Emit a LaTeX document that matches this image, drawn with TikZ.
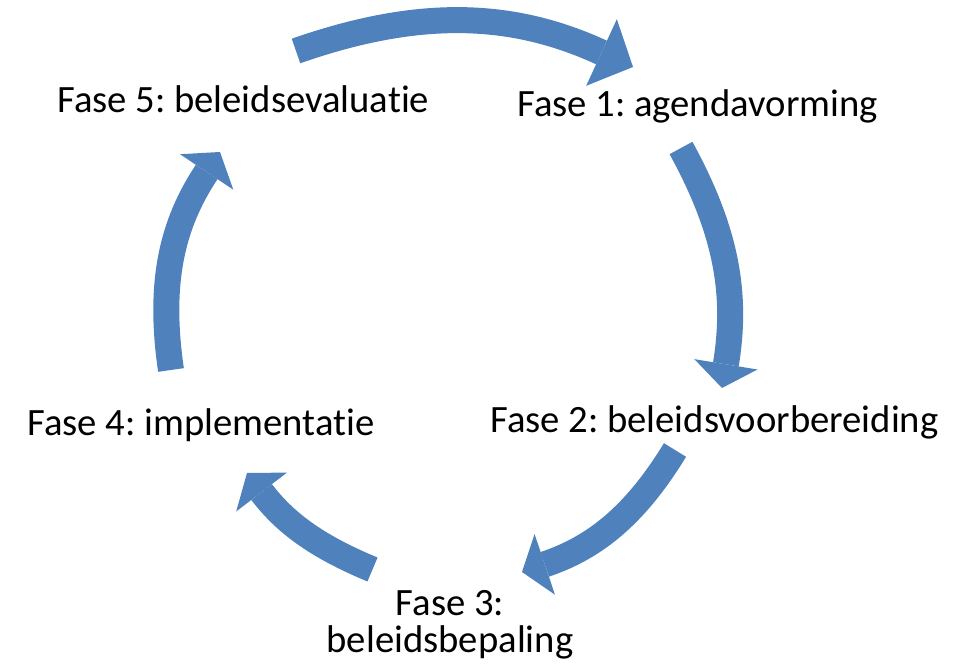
\documentclass[tikz,border=0pt]{standalone}
\usepackage{fontspec}
\setmainfont{Carlito}[Ligatures=NoCommon]
\usetikzlibrary{arrows.meta}
\definecolor{cycblue}{RGB}{79,129,189}
\tikzset{
  cycarrow/.style={draw=cycblue, line width=19.5pt, line cap=butt,
    -{Triangle[width=48pt,length=18pt,line width=0pt]}},
  bigarrow/.style={draw=cycblue, line width=19.5pt, line cap=butt,
    -{Triangle[width=55pt,length=26pt,line width=0pt]}},
  phase/.style={inner sep=0pt, font=\frenchspacing\fontsize{29pt}{27.5pt}\selectfont, text=black}
}
\begin{document}
\begin{tikzpicture}[x=0.75pt,y=0.75pt]
\useasboundingbox (0,0) rectangle (963,666);
% text nodes
\node[phase, anchor=base west] (f5) at (57,553) {Fase 5: beleidsevaluatie};
\node[phase, anchor=base west] (f1) at (517,549) {Fase 1: agendavorming};
\node[phase, anchor=base west] (f2) at (490,233) {Fase 2: beleidsvoorbereiding};
\node[phase, anchor=base west] (f4) at (27,230) {Fase 4: implementatie};
\node[phase, align=center, anchor=north] (f3) at (450,76) {Fase 3:\\beleidsbepaling};
% arrow ends
\coordinate (a1) at (296,615); \coordinate (a2) at (633,599);
\coordinate (b1) at (681,518); \coordinate (b2) at (722,278);
\coordinate (c1) at (675,216); \coordinate (c2) at (522,94);
\coordinate (d1) at (372.5,96.5); \coordinate (d2) at (247,193);
\coordinate (e1) at (171,296); \coordinate (e2) at (220,514);
% arrows
\draw[bigarrow] (a1) to[bend left=22] (a2);
\draw[cycarrow] (b1) to[bend left=19] (b2);
\draw[cycarrow] (c1) to[bend left=20] (c2);
\draw[cycarrow] (d1) to[bend left=15] (d2);
\draw[cycarrow] (e1) to[bend left=21] (e2);
\end{tikzpicture}
\end{document}
